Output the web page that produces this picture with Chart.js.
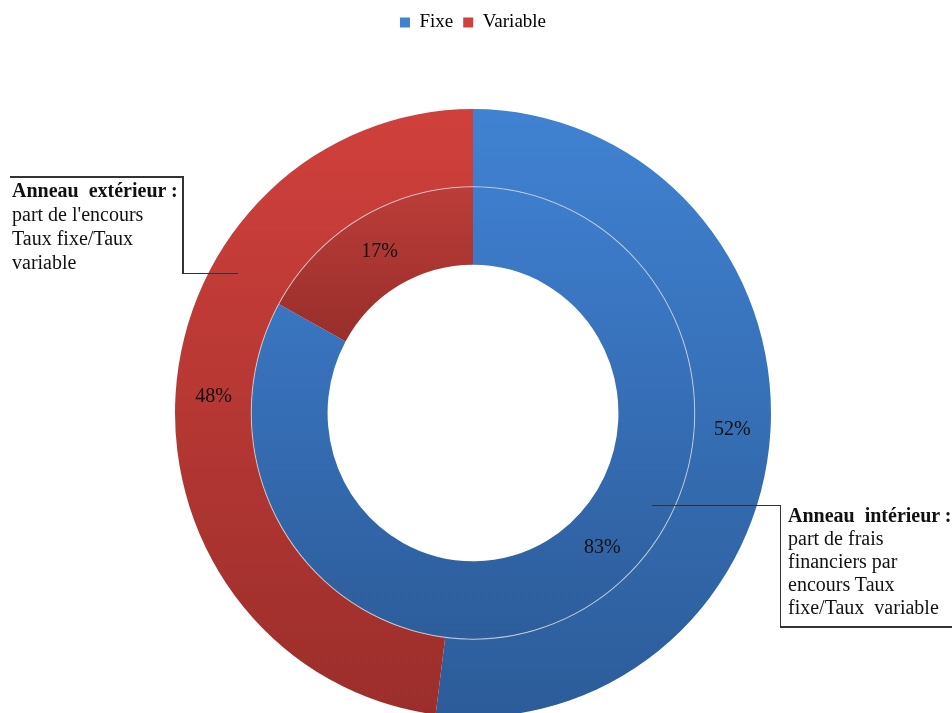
<!DOCTYPE html>
<html lang="fr">
<head>
<meta charset="utf-8">
<title>Part fixe / variable</title>
<script src="https://cdn.jsdelivr.net/npm/chart.js@4/dist/chart.umd.min.js"></script>
<style>
  body { margin: 0; background: #fff; }
  #wrap { position: relative; width: 952px; height: 713px; overflow: hidden; }
  .note {
    position: absolute;
    font-family: "Liberation Serif", "Times New Roman", serif;
    font-size: 20px;
    color: #111;
    white-space: pre;
  }
  .note b { font-weight: bold; }
  .rule { position: absolute; background: #333; }
</style>
</head>
<body>
<div id="wrap">
  <canvas id="donut"></canvas>

  <!-- anneau extérieur -->
  <div class="rule" style="left:10px;top:176px;width:173px;height:1.5px"></div>
  <div class="rule" style="left:182px;top:176px;width:1.5px;height:98px"></div>
  <div class="rule" style="left:182px;top:272.5px;width:56px;height:1.5px"></div>
  <div class="note" style="left:12px;top:178px;line-height:24px"><b>Anneau  extérieur :</b>
part de l'encours
Taux fixe/Taux
variable</div>

  <!-- anneau intérieur -->
  <div class="rule" style="left:652px;top:504.5px;width:129px;height:1.5px"></div>
  <div class="rule" style="left:779.5px;top:504.5px;width:1.5px;height:123px"></div>
  <div class="rule" style="left:779.5px;top:626px;width:173px;height:1.5px"></div>
  <div class="note" style="left:788px;top:504px;line-height:23px"><b>Anneau  intérieur :</b>
part de frais
financiers par
encours Taux
fixe/Taux  variable</div>
</div>

<script>
const categories = ["Fixe", "Variable"];
const encours = [52, 48];        // anneau extérieur
const fraisFinanciers = [83, 17]; // anneau intérieur

// top/bottom colours of each slice gradient
const outerShades = [["#4082d2", "#2c5c99"], ["#d0403c", "#9b2e2b"]];
const innerShades = [["#3e7ece", "#2d5d9b"], ["#bc3d39", "#982e2a"]];

// the rings are drawn slightly taller than wide
const STRETCH_Y = 1.02;

// vertical gradient over the slice's own bounding box
function shade(pairs) {
  return (ctx) => {
    const chart = ctx.chart;
    const area = chart.chartArea;
    const pair = pairs[ctx.dataIndex];
    if (!area) return pair[0];
    const ctrl = chart.getDatasetMeta(ctx.datasetIndex).controller;
    const data = ctx.dataset.data;
    const total = data.reduce((a, b) => a + b, 0);
    const before = data.slice(0, ctx.dataIndex).reduce((a, b) => a + b, 0);
    const a0 = -Math.PI / 2 + 2 * Math.PI * before / total;
    const a1 = a0 + 2 * Math.PI * data[ctx.dataIndex] / total;
    const cy = (area.top + area.bottom) / 2;
    let lo = Infinity, hi = -Infinity;
    for (let i = 0; i <= 60; i++) {
      const a = a0 + (a1 - a0) * i / 60;
      for (const r of [ctrl.innerRadius, ctrl.outerRadius]) {
        const y = cy + r * Math.sin(a);
        lo = Math.min(lo, y);
        hi = Math.max(hi, y);
      }
    }
    if (!isFinite(lo) || hi - lo < 1) return pair[0];
    const g = chart.ctx.createLinearGradient(0, lo, 0, hi);
    g.addColorStop(0, pair[0]);
    g.addColorStop(1, pair[1]);
    return g;
  };
}

// vertical stretch, thin light ring between the datasets, percentage labels
const ringDecor = {
  id: "ringDecor",
  beforeDatasetsDraw(chart) {
    const { ctx, chartArea } = chart;
    const cy = (chartArea.top + chartArea.bottom) / 2;
    ctx.save();
    ctx.translate(0, cy);
    ctx.scale(1, STRETCH_Y);
    ctx.translate(0, -cy);
  },
  afterDatasetsDraw(chart, args, opts) {
    const { ctx } = chart;
    const inner = chart.getDatasetMeta(1);
    const arc = inner.data[0];
    ctx.beginPath();
    ctx.arc(arc.x, arc.y, inner.controller.outerRadius, 0, Math.PI * 2);
    ctx.strokeStyle = "rgba(215,220,228,0.75)";
    ctx.lineWidth = 1;
    ctx.stroke();
    ctx.restore();

    ctx.save();
    ctx.font = opts.font;
    ctx.fillStyle = "#111";
    ctx.textAlign = "center";
    ctx.textBaseline = "middle";
    chart.data.datasets.forEach((ds, di) => {
      chart.getDatasetMeta(di).data.forEach((el, i) => {
        const p = el.tooltipPosition();
        const n = (opts.nudge[di] || {})[i] || [0, 0];
        const y = el.y + (p.y - el.y) * STRETCH_Y;
        ctx.fillText(ds.data[i] + "%", p.x + n[0], y + n[1]);
      });
    });
    ctx.restore();
  }
};

// push the doughnut down below the legend
const legendGap = {
  id: "legendGap",
  beforeInit(chart) {
    const fit = chart.legend.fit;
    chart.legend.fit = function () {
      fit.call(this);
      this.height = 112;
    };
  }
};

new Chart(document.getElementById("donut"), {
  type: "doughnut",
  data: {
    labels: categories,
    datasets: [
      { label: "Encours", data: encours, backgroundColor: shade(outerShades), borderWidth: 0 },
      { label: "Frais financiers", data: fraisFinanciers, backgroundColor: shade(innerShades), borderWidth: 0 }
    ]
  },
  options: {
    responsive: true,
    maintainAspectRatio: false,
    animation: false,
    cutout: "48.8%",
    layout: { padding: { top: 3, bottom: 2, left: 0, right: 6 } },
    plugins: {
      legend: {
        position: "top",
        labels: {
          color: "#111",
          boxWidth: 10,
          boxHeight: 10,
          padding: 10,
          font: { family: "Liberation Serif", size: 19 },
          generateLabels(chart) {
            return categories.map((c, i) => ({
              text: c,
              fillStyle: outerShades[i][0],
              strokeStyle: outerShades[i][0],
              lineWidth: 0,
              hidden: false,
              index: i
            }));
          }
        }
      },
      tooltip: { enabled: false },
      ringDecor: {
        font: "20px 'Liberation Serif'",
        nudge: { 1: { 0: [36, -26] } }
      }
    }
  },
  plugins: [legendGap, ringDecor]
});
</script>
</body>
</html>
